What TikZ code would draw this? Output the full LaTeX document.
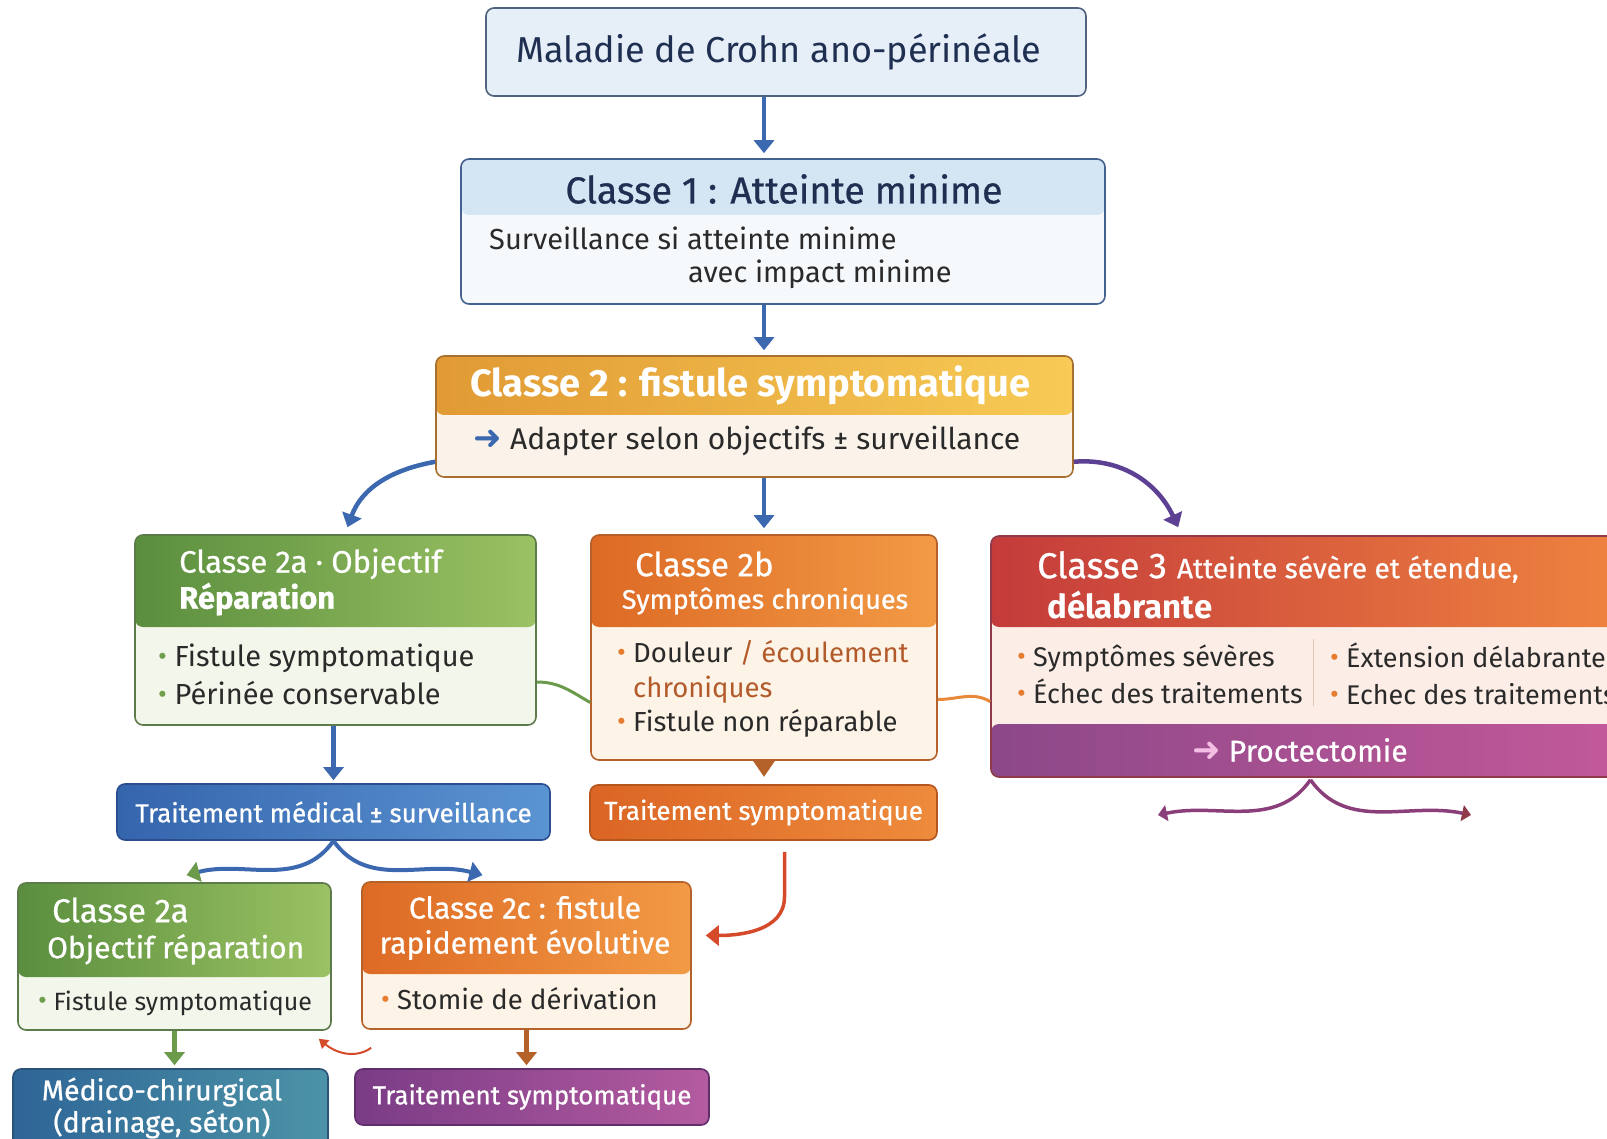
\documentclass[tikz,border=0pt]{standalone}
\usepackage{fontspec}
\setmainfont{Fira Sans}
\newfontfamily\medfont{Fira Sans}[FakeBold=0.7]
\newfontfamily\symfont{DejaVu Sans}
\usetikzlibrary{positioning,calc,arrows.meta}

\definecolor{navy}{HTML}{1F2F52}
\definecolor{ink}{HTML}{2A2A2A}
\definecolor{arrowblue}{HTML}{3C68B0}
\definecolor{topfill}{HTML}{E6EFF8}
\definecolor{topdraw}{HTML}{50627E}
\definecolor{cunhead}{HTML}{D4E5F4}
\definecolor{cunbody}{HTML}{F6F9FC}
\definecolor{cundraw}{HTML}{44618F}
\definecolor{cdeuxL}{HTML}{E19A34}
\definecolor{cdeuxR}{HTML}{F7CB55}
\definecolor{cdeuxbody}{HTML}{FBF3EA}
\definecolor{cdeuxdraw}{HTML}{A8702F}
\definecolor{gheadL}{HTML}{5A8E3E}
\definecolor{gheadR}{HTML}{9BC263}
\definecolor{gbody}{HTML}{F3F6EA}
\definecolor{gdraw}{HTML}{5D7A4B}
\definecolor{gbullet}{HTML}{6F9F4D}
\definecolor{oheadL}{HTML}{DD6A25}
\definecolor{oheadR}{HTML}{F29A45}
\definecolor{obody}{HTML}{FDF3E6}
\definecolor{odraw}{HTML}{B5612A}
\definecolor{obullet}{HTML}{E57C30}
\definecolor{obrown}{HTML}{B35A2B}
\definecolor{rheadL}{HTML}{C43B3B}
\definecolor{rheadR}{HTML}{F0853F}
\definecolor{rbody}{HTML}{FCEEE6}
\definecolor{rdraw}{HTML}{8E3A4A}
\definecolor{pfootL}{HTML}{8C4889}
\definecolor{pfootR}{HTML}{C4599A}
\definecolor{tmL}{HTML}{3565AD}
\definecolor{tmR}{HTML}{5B94D2}
\definecolor{tmdraw}{HTML}{2B4F8E}
\definecolor{tsL}{HTML}{DB6524}
\definecolor{tsR}{HTML}{EE8B3C}
\definecolor{tsdraw}{HTML}{B5561F}
\definecolor{mcL}{HTML}{2E6597}
\definecolor{mcR}{HTML}{4C93A6}
\definecolor{mcdraw}{HTML}{2B5377}
\definecolor{tspL}{HTML}{7A3C86}
\definecolor{tspR}{HTML}{B45BA0}
\definecolor{tspdraw}{HTML}{5F2E6B}
\definecolor{glink}{HTML}{6A9A4A}
\definecolor{olink}{HTML}{E8893A}
\definecolor{plink}{HTML}{5C4094}
\definecolor{rlink}{HTML}{D64A2C}
\definecolor{prlink}{HTML}{8A3E7A}
\definecolor{pinkarrow}{HTML}{F4BDE3}

\newcommand\fsz[2]{\fontsize{#1}{#2}\selectfont}
\newcommand\bul[1]{\textcolor{#1}{\raisebox{1pt}{\fontsize{27}{27}\selectfont•}}}

\tikzset{>={Triangle[length=13pt,width=20pt]},
  card/.style={draw=#1, line width=1.6pt, rounded corners=8pt, inner sep=0pt},
  head/.style n args={3}{path picture={\shade[left color=#1,right color=#2]
    (path picture bounding box.north west) rectangle ([yshift=-#3]path picture bounding box.north east);}},
  bar/.style={line width=1.6pt, rounded corners=8pt, inner sep=0pt, text=white, font=\medfont\fsz{26}{30}},
  txt/.style={inner sep=0pt},
  wtxt/.style={inner sep=0pt, text=white},
  arr/.style={->, line width=4.5pt, draw=arrowblue}}

\begin{document}
\begin{tikzpicture}[x=1pt,y=1pt]
  \useasboundingbox (0,0) rectangle (1607,-1139);

  % upper part
  \node [card=topdraw, fill=topfill, minimum width=600pt, minimum height=88pt, text=navy, font=\fsz{36}{40}] (top) at (786,-52) {\hspace*{-14pt}Maladie de Crohn ano-périnéale};

  \node [card=cundraw, fill=cunbody, head={cunhead}{cunhead}{56pt}, minimum width=644pt, minimum height=145pt] (c1) at (783,-231.5) {};
  \node [txt, text=navy, font=\medfont\fsz{37.5}{40}] (c1title) at (784,-189) {Classe 1 : Atteinte minime};
  \node [txt, anchor=west, align=left, text=ink, font=\fsz{29}{33}] (c1text) at (489,-258) {Surveillance si atteinte minime\\\hspace*{199pt}avec impact minime};

  \node [card=cdeuxdraw, fill=cdeuxbody, head={cdeuxL}{cdeuxR}{59pt}, minimum width=637pt, minimum height=121pt] (c2) at (754.5,-416.5) {};
  \node [wtxt, font=\bfseries\fsz{38}{42}] (c2title) at (750,-385) {Classe 2 : fistule symptomatique};
  \node [txt, text=ink, font=\fsz{30}{34}] (c2text) at (747,-441) {{\symfont\fsz{34}{34}\color{arrowblue}➜} Adapter selon objectifs ± surveillance};

  % classes 2a, 2b, 3
  \node [card=gdraw, fill=gbody, head={gheadL}{gheadR}{92pt}, minimum width=401pt, minimum height=190pt] (c2a) at (335.5,-630) {};
  \node [wtxt, anchor=west, align=left, font=\medfont\fsz{31}{36}] (c2atitle) at (179,-582) {Classe 2a · Objectif\\\textbf{Réparation}};
  \node [txt, anchor=west, align=left, text=ink, font=\fsz{29}{38}] (c2atext) at (158,-674) {\bul{gbullet} Fistule symptomatique\\\bul{gbullet} Périnée conservable};

  \node [card=odraw, fill=obody, head={oheadL}{oheadR}{92pt}, minimum width=346pt, minimum height=225pt] (c2b) at (764,-647.5) {};
  \node [wtxt, anchor=west, font=\medfont\fsz{33}{36}] (c2btitle) at (635,-564) {Classe 2b};
  \node [wtxt, font=\medfont\fsz{27}{30}] (c2bsub) at (765,-601) {Symptômes chroniques};
  \node [txt, anchor=west, align=left, text=ink, font=\fsz{27.5}{34.5}] (c2btext) at (617,-689) {\bul{obullet} Douleur {\color{obrown}/ écoulement}\\\hphantom{\bul{obullet} }{\color{obrown}chroniques}\\\bul{obullet} Fistule non réparable};
  \fill [odraw] ([xshift=-11pt]c2b.south) -- ([xshift=11pt]c2b.south) -- ([yshift=-16pt]c2b.south) -- cycle;

  \node [card=rdraw, fill=rbody, minimum width=649pt, minimum height=241pt,
    path picture={\shade[left color=rheadL,right color=rheadR] (path picture bounding box.north west) rectangle ([yshift=-91pt]path picture bounding box.north east);
      \shade[left color=pfootL,right color=pfootR] ([yshift=53pt]path picture bounding box.south west) rectangle (path picture bounding box.south east);}] (c3) at (1315.5,-656.5) {};
  \node [wtxt, anchor=west, font=\medfont] (c3title) at (1037,-567) {{\fsz{36}{40}Classe 3}\hspace{10pt}{\fsz{28}{32}Atteinte sévère et étendue,}};
  \node [wtxt, anchor=west, font=\bfseries\fsz{33}{36}] (c3sub) at (1047,-605) {délabrante};
  \node [txt, anchor=west, align=left, text=ink, font=\fsz{27}{37}] (c3left) at (1017,-674) {\bul{obullet} Symptômes sévères\\\bul{obullet} Échec des traitements};
  \node [txt, anchor=west, align=left, text=ink, font=\fsz{27}{37}] (c3right) at (1330,-674) {\bul{obullet} Éxtension délabrante\\\bul{obullet} Echec des traitements};
  \draw [obrown!35, line width=1pt] ([xshift=323pt,yshift=-104pt]c3.north west) -- ++(0,-67);
  \node [wtxt, font=\medfont\fsz{30}{34}] (c3foot) at (1300,-750) {{\symfont\fsz{34}{34}\color{pinkarrow}➜} Proctectomie};

  % treatments
  \node [bar, draw=tmdraw, left color=tmL, right color=tmR, minimum width=433pt, minimum height=56pt] (tm) at (333.5,-812) {Traitement médical ± surveillance};
  \node [bar, draw=tsdraw, left color=tsL, right color=tsR, minimum width=347pt, minimum height=55pt] (ts) at (763.5,-812.5) {Traitement symptomatique};

  % lower part
  \node [card=gdraw, fill=gbody, head={gheadL}{gheadR}{94pt}, minimum width=313pt, minimum height=147pt] (c2abis) at (174.5,-956.5) {};
  \node [wtxt, anchor=west, align=left, font=\medfont\fsz{30}{36}] (c2abistitle) at (47,-931) {\hspace*{5pt}{\fsz{33}{36}Classe 2a}\\Objectif réparation};
  \node [txt, anchor=west, text=ink, font=\fsz{25}{30}] (c2abistext) at (38,-1003) {\bul{gbullet} Fistule symptomatique};

  \node [card=odraw, fill=obody, head={oheadL}{oheadR}{92pt}, minimum width=329pt, minimum height=147pt] (c2c) at (526.5,-955.5) {};
  \node [wtxt, align=center, font=\medfont\fsz{30}{35}] (c2ctitle) at (525,-928) {Classe 2c : fistule\\rapidement évolutive};
  \node [txt, anchor=west, text=ink, font=\fsz{27.5}{30}] (c2ctext) at (381,-999) {\bul{obullet} Stomie de dérivation};

  \node [bar, draw=mcdraw, left color=mcL, right color=mcR, minimum width=315pt, minimum height=91pt] (mc) at (170.5,-1114.5) {};
  \node [wtxt, align=center, font=\medfont\fsz{28.5}{32}] (mctext) at (162,-1108) {Médico-chirurgical\\(drainage, séton)};
  \node [bar, draw=tspdraw, left color=tspL, right color=tspR, minimum width=354pt, minimum height=56pt] (tsp) at (532,-1097) {Traitement symptomatique};

  \coordinate (p3l) at (1158,-815);
  \coordinate (p3r) at (1471,-815);

  % connectors
  \draw [arr] (top.south -| c2b.north) -- ([yshift=5pt]c1.north -| c2b.north);
  \draw [arr] (c1.south -| c2b.north) -- ([yshift=5pt]c2.north -| c2b.north);
  \draw [arr] (c2.south -| c2b.north) -- ([yshift=6pt]c2b.north);
  \draw [arr] ([yshift=16pt]c2.south west) to [out=190,in=70] ([xshift=12pt,yshift=7pt]c2a.north);
  \draw [arr, draw=plink] ([yshift=16pt]c2.south east) to [out=5,in=115] ([xshift=188pt,yshift=8pt]c3.north west);
  \draw [glink, line width=3pt] ([yshift=-52pt]c2a.east) to [out=0,in=150] ([yshift=-55pt]c2b.west);
  \draw [olink, line width=3pt] ([yshift=-52pt]c2b.east) to [out=0,in=150] ([yshift=-45pt]c3.west);
  \draw [arr] (c2a.south -| tm.north) -- ([yshift=3pt]tm.north);
  \draw [arr, line width=4pt, -{Triangle[length=13pt,width=20pt,color=glink]}] (tm.south) to [out=235,in=15] ([xshift=12pt,yshift=7pt]c2abis.north);
  \draw [arr, line width=4pt] (tm.south) to [out=-55,in=165] ([xshift=-44pt,yshift=6pt]c2c.north);
  \draw [arr, draw=rlink, line width=3.5pt] ([xshift=21pt,yshift=-11pt]ts.south) -- ++(0,-45) to [out=-90,in=0] ([xshift=14pt,yshift=20pt]c2c.east);
  \draw [arr, draw=glink] (c2abis.south) -- ([yshift=3pt]c2abis.south |- mc.north);
  \draw [arr, draw=odraw] (c2c.south) -- ([yshift=3pt]c2c.south |- tsp.north);
  \draw [rlink, line width=2pt, -{Triangle[length=9pt,width=11pt]}] ([xshift=10pt,yshift=-18pt]c2c.south west) to [out=215,in=-40] ([xshift=-13pt,yshift=-8pt]c2abis.south east);
  \draw [prlink, line width=3.5pt, -{Triangle[length=9pt,width=16pt]}] ([xshift=-5pt,yshift=-2pt]c3.south) to [out=235,in=12] (p3l);
  \draw [prlink, line width=3.5pt, -{Triangle[length=9pt,width=16pt,color=rdraw]}] ([xshift=-5pt,yshift=-2pt]c3.south) to [out=-55,in=168] (p3r);
\end{tikzpicture}
\end{document}
